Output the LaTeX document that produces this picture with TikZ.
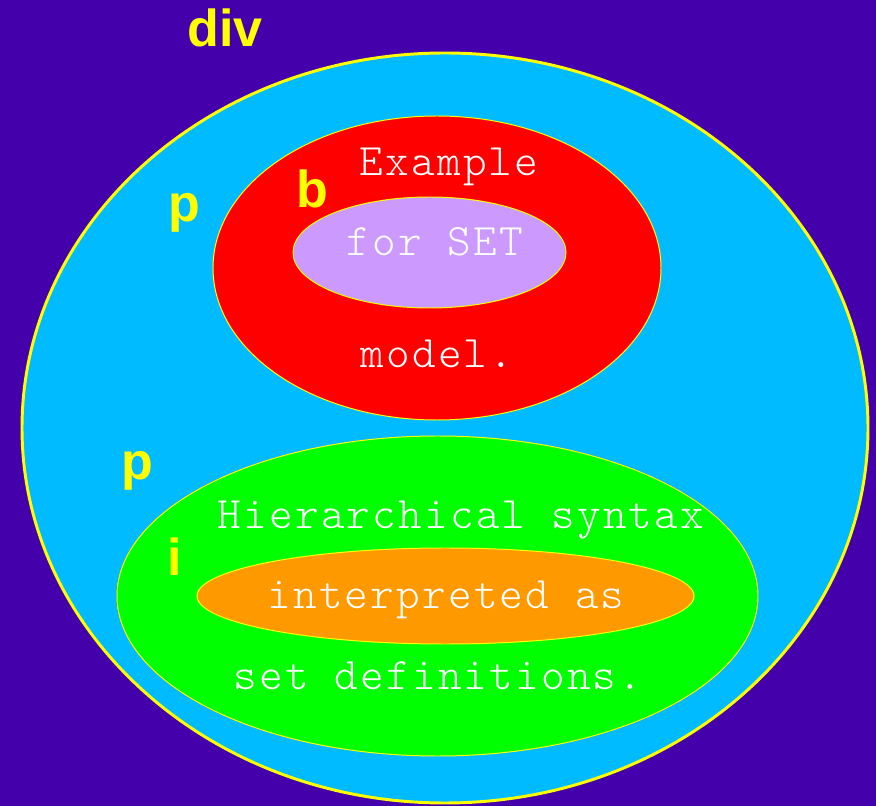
\documentclass[tikz,border=0pt]{standalone}
\usepackage{fontspec}
\setsansfont{Liberation Sans}
\newfontfamily\setwordsfont{Latin Modern Mono Light}[LetterSpace=4.9]
\usepackage{tikz}
\definecolor{pagebg}{HTML}{4400AA}
\definecolor{skyset}{HTML}{00BBFF}
\definecolor{redset}{HTML}{FF0000}
\definecolor{lilacset}{HTML}{CC99FF}
\definecolor{greenset}{HTML}{00FF00}
\definecolor{orangeset}{HTML}{FF9900}
\definecolor{tagyellow}{HTML}{FFFF00}
\tikzset{
  tag/.style={font=\sffamily\bfseries\fontsize{37}{37}\selectfont, text=tagyellow, anchor=base, inner sep=0pt},
  words/.style={font=\setwordsfont\fontsize{32}{32}\selectfont, text=white, anchor=base, inner sep=0pt},
  set/.style={fill=#1, draw=tagyellow, line width=0.7pt},
}

\begin{document}
\begin{tikzpicture}[x=0.025cm,y=-0.025cm]
  \fill[pagebg] (0,0) rectangle (876,806);
  \useasboundingbox (0,0) rectangle (876,806);

  % div
  \draw[set=skyset, line width=2.1pt] (445,428) ellipse [x radius=423, y radius=375];
  \node[tag] (divtag) at (225,47) {div};

  % first p with b
  \draw[set=redset] (437,268) ellipse [x radius=224, y radius=152];
  \draw[set=lilacset] (429.5,252.5) ellipse [x radius=136.5, y radius=55.5];
  \node[tag] (ptagone) at (184,222) {p};
  \node[tag] (btag) at (312,208) {b};
  \node[words] (example) at (449,176) {Example};
  \node[words] (forset) at (435,256) {for SET};
  \node[words] (model) at (437,368) {model.};

  % second p with i
  \draw[set=greenset] (437.5,596) ellipse [x radius=320.5, y radius=160];
  \draw[set=orangeset] (445.5,596) ellipse [x radius=248.5, y radius=48];
  \node[tag] (ptagtwo) at (137,480) {p};
  \node[tag] (itag) at (175,575) {i};
  \node[words] (hier) at (461,529) {Hierarchical syntax};
  \node[words] (interp) at (446,609) {interpreted as};
  \node[words] (setdef) at (438,689) {set definitions.};
\end{tikzpicture}
\end{document}
